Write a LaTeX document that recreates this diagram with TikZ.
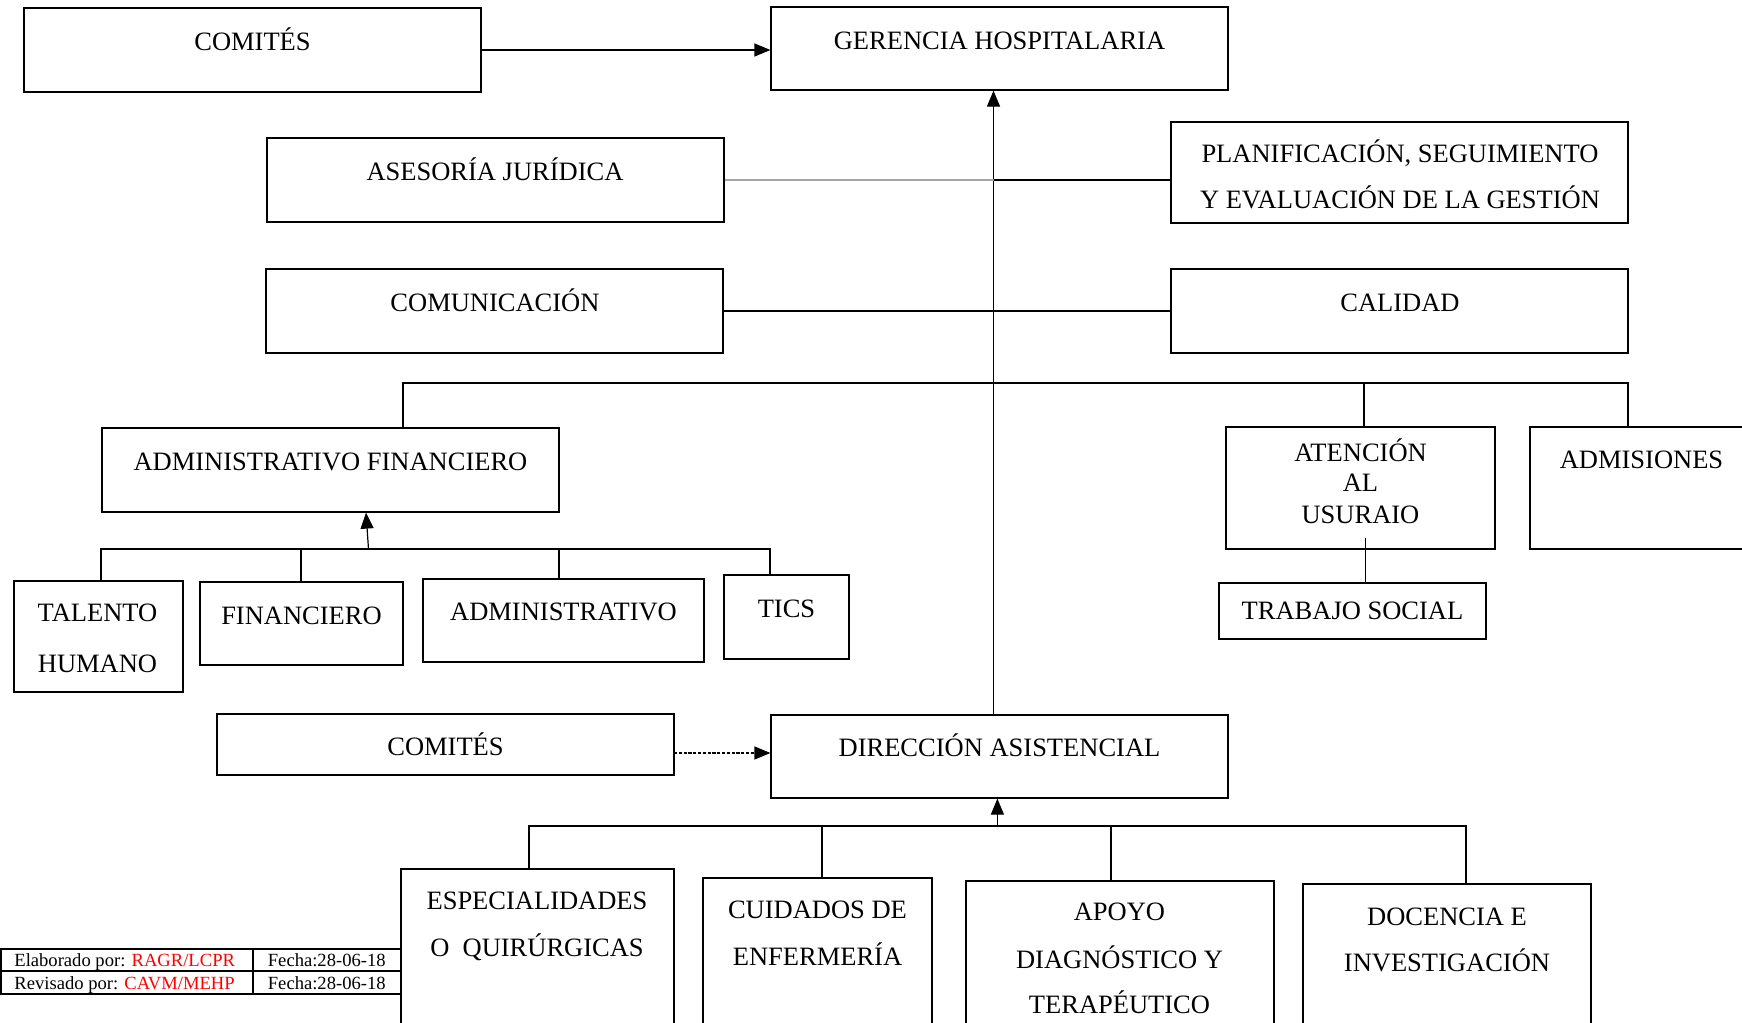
\documentclass[tikz,border=0pt]{standalone}
\usepackage{fontspec}
\setmainfont{Liberation Serif}
\usetikzlibrary{arrows.meta,fit}
\begin{document}
\begin{tikzpicture}[x=0.5pt,y=-0.5pt,
  box/.style={draw, line width=0.6pt, inner sep=0pt},
  txt/.style={anchor=base, inner sep=0pt, font=\fontsize{13.25}{15}\selectfont},
  small/.style={anchor=base west, inner sep=0pt, font=\fontsize{9.3}{11}\selectfont},
  conn/.style={line width=0.6pt},
  arr/.style={conn, -{Triangle[length=8pt,width=6.5pt]}},
  dotarr/.style={arr, dash pattern=on 1.6pt off 0.8pt},
  tline/.style={line width=1pt}
]
\useasboundingbox (0,0) rectangle (1742,1023);
\begin{scope}
\clip (0,0) rectangle (1742,1023);
% boxes
\node[box, fit={(24,8) (481,92)}] (com1) {};
\node[box, fit={(771,7) (1228,90)}] (ger) {};
\node[box, fit={(267,138) (724,222)}] (ase) {};
\node[box, fit={(1171,122) (1628,223)}] (pla) {};
\node[box, fit={(266,269) (723,353)}] (comu) {};
\node[box, fit={(1171,269) (1628,353)}] (cal) {};
\node[box, fit={(102,428) (559,512)}] (adf) {};
\node[box, fit={(1226,427) (1495,549)}] (ate) {};
\node[box, fit={(1530,427) (1760,549)}] (adm) {};
\node[box, fit={(14,581) (183,692)}] (tal) {};
\node[box, fit={(200,582) (403,665)}] (fin) {};
\node[box, fit={(423,579) (704,662)}] (adv) {};
\node[box, fit={(724,575) (849,659)}] (tic) {};
\node[box, fit={(1219,583) (1486,639)}] (tra) {};
\node[box, fit={(217,714) (674,775)}] (com2) {};
\node[box, fit={(771,715) (1228,798)}] (dir) {};
\node[box, fit={(401,869) (674,1040)}] (esp) {};
\node[box, fit={(703,878) (932,1040)}] (cui) {};
\node[box, fit={(966,881) (1274,1040)}] (apo) {};
\node[box, fit={(1303,884) (1591,1040)}] (doc) {};

% texts
\node[txt] (com1-t) at (252.5,50.7) {COMITÉS};
\node[txt] (ger-t) at (999.5,49) {GERENCIA HOSPITALARIA};
\node[txt] (ase-t) at (495,180) {ASESORÍA JURÍDICA};
\node[txt] (pla-t1) at (1400,162.7) {PLANIFICACIÓN, SEGUIMIENTO};
\node[txt] (pla-t2) at (1400,208.3) {Y EVALUACIÓN DE LA GESTIÓN};
\node[txt] (comu-t) at (495,311.7) {COMUNICACIÓN};
\node[txt] (cal-t) at (1400,311.7) {CALIDAD};
\node[txt] (adf-t) at (330.5,470) {ADMINISTRATIVO FINANCIERO};
\node[txt] (tal-t1) at (97.5,621.7) {TALENTO};
\node[txt] (tal-t2) at (97.5,672.7) {HUMANO};
\node[txt] (fin-t) at (301.5,624) {FINANCIERO};
\node[txt] (adv-t) at (563.5,620.7) {ADMINISTRATIVO};
\node[txt] (tic-t) at (786.5,617.3) {TICS};
\node[txt] (ate-t1) at (1360.5,461.7) {ATENCIÓN};
\node[txt] (ate-t2) at (1360.5,491.7) {AL};
\node[txt] (ate-t3) at (1360.5,523.3) {USURAIO};
\node[txt] (adm-t) at (1641.5,468.3) {ADMISIONES};
\node[txt] (tra-t) at (1352.5,619.3) {TRABAJO SOCIAL};
\node[txt] (com2-t) at (445.5,755) {COMITÉS};
\node[txt] (dir-t) at (999.5,756.7) {DIRECCIÓN ASISTENCIAL};
\node[txt] (esp-t1) at (537,909.3) {ESPECIALIDADES};
\node[txt] (esp-t2) at (537,956.7) {O\ \ QUIRÚRGICAS};
\node[txt] (cui-t1) at (817.5,918.3) {CUIDADOS DE};
\node[txt] (cui-t2) at (817.5,965) {ENFERMERÍA};
\node[txt] (apo-t1) at (1119.5,920.7) {APOYO};
\node[txt] (apo-t2) at (1119.5,968.3) {DIAGNÓSTICO Y};
\node[txt] (apo-t3) at (1119.5,1013.3) {TERAPÉUTICO};
\node[txt] (doc-t1) at (1447,925) {DOCENCIA E};
\node[txt] (doc-t2) at (1447,971.7) {INVESTIGACIÓN};

% helper coordinates
\coordinate (mx) at (993.5,0);
\coordinate (b1) at (403,383);
\coordinate (b2) at (1628,383);
\coordinate (b3) at (1364,383);
\coordinate (s0) at (366,0);
\coordinate (s1) at (368.5,549);
\coordinate (t1) at (101,549);
\coordinate (t2) at (301,549);
\coordinate (t3) at (559,549);
\coordinate (t4) at (770,549);
\coordinate (u1) at (1365.5,538);
\coordinate (d1) at (674,753);
\coordinate (e0) at (997.4,826);
\coordinate (e1) at (529,826);
\coordinate (e2) at (822,826);
\coordinate (e3) at (1111,826);
\coordinate (e4) at (1466,826);

% connectors
\draw[arr] (com1.east) -- (com1.east -| ger.west);
\draw[arr] (dir.north -| mx) -- (ger.south -| mx);
\draw[conn, color={rgb,255:red,166;green,166;blue,166}] (ase.east) -- (ase.east -| mx);
\draw[conn] (ase.east -| mx) -- (ase.east -| pla.west);
\draw[conn] (comu.east) -- (cal.west);
\draw[conn] (b1 |- adf.north) -- (b1) -- (b2) -- (b2 |- adm.north);
\draw[conn] (b3) -- (b3 |- ate.north);
\draw[arr] (s1) -- (adf.south -| s0);
\draw[conn] (t1 |- tal.north) -- (t1) -- (t4) -- (t4 |- tic.north);
\draw[conn] (t2) -- (t2 |- fin.north);
\draw[conn] (t3) -- (t3 |- adv.north);
\draw[conn] (u1) -- (u1 |- tra.north);
\draw[dotarr] (d1) -- (d1 -| dir.west);
\draw[arr] (e0) -- (e0 |- dir.south);
\draw[conn] (e1 |- esp.north) -- (e1) -- (e4) -- (e4 |- doc.north);
\draw[conn] (e2) -- (e2 |- cui.north);
\draw[conn] (e3) -- (e3 |- apo.north);
\end{scope}

% signature table
\draw[tline] (0.8,948.5) rectangle (401,994);
\draw[tline] (0.8,971) -- (401,971);
\draw[tline] (253,948.5) -- (253,994);
\node[small] (el) at (14,966.7) {Elaborado por: \textcolor{red}{RAGR/LCPR}};
\node[small] (ef) at (267.5,966.7) {Fecha:28-06-18};
\node[small] (rv) at (14,989.3) {Revisado por: \textcolor{red}{CAVM/MEHP}};
\node[small] (rf) at (267.5,989.3) {Fecha:28-06-18};
\end{tikzpicture}
\end{document}
